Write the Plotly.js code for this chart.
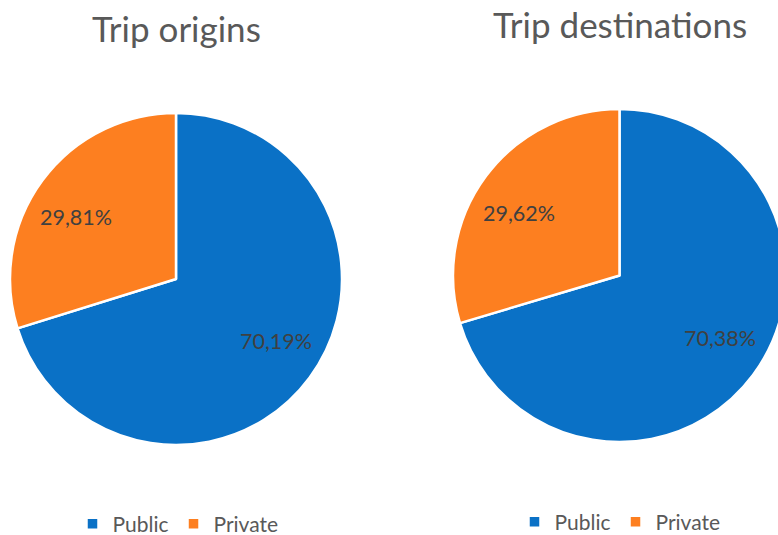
<!DOCTYPE html>
<html>
<head>
<meta charset="utf-8">
<script src="https://cdn.plot.ly/plotly-3.0.1.min.js"></script>
<style>
html, body { margin: 0; padding: 0; overflow: hidden; background: #fff; }
#chart { width: 800px; height: 535px; }
</style>
</head>
<body>
<div id="chart"></div>
<script>
const categories = ['Public', 'Private'];
const originValues = [70.19, 29.81];
const destinationValues = [70.38, 29.62];
const chartTitles = ['Trip origins', 'Trip destinations'];
const sliceColors = ['#0A71C6', '#FD7F20'];

const W = 800, H = 535;
const FONT = 'Lato, "Open Sans", sans-serif';

// pie geometry in pixels (center x, center y, radius)
const pies = [
  { cx: 176, cy: 279, r: 166, values: originValues, title: chartTitles[0], titleY: 28, legendX: 178, legendY: 524 },
  { cx: 619.5, cy: 275.5, r: 166.5, values: destinationValues, title: chartTitles[1], titleY: 24, legendX: 620, legendY: 522 }
];

const traces = pies.map((p, i) => ({
  type: 'pie',
  labels: categories,
  values: p.values,
  sort: false,
  direction: 'clockwise',
  rotation: 0,
  marker: { colors: sliceColors, line: { color: '#ffffff', width: 2.5 } },
  textinfo: 'none',
  hoverinfo: 'none',
  domain: {
    x: [(p.cx - p.r) / W, (p.cx + p.r) / W],
    y: [(H - (p.cy + p.r)) / H, (H - (p.cy - p.r)) / H]
  },
  legend: i === 0 ? 'legend' : 'legend2',
  legendgroup: 'g' + i
}));

// percentage labels placed near each slice's mid-angle
const labelAnnotations = [];
const angleShift = -4.5 * Math.PI / 180;
pies.forEach(p => {
  const total = p.values.reduce((a, b) => a + b, 0);
  let cum = 0;
  p.values.forEach(v => {
    const frac = v / total;
    const mid = (cum + frac / 2) * 2 * Math.PI + angleShift;
    cum += frac;
    const rr = 0.71 * p.r;
    const px = p.cx + rr * Math.sin(mid);
    const py = p.cy - rr * Math.cos(mid);
    labelAnnotations.push({
      text: (frac * 100).toFixed(2).replace('.', ',') + '%',
      x: px / W, y: (H - py) / H,
      xref: 'paper', yref: 'paper', showarrow: false,
      xanchor: 'center', yanchor: 'middle',
      font: { family: FONT, size: 21.5, color: '#404040' }
    });
  });
});

const titleAnnotations = pies.map(p => ({
  text: p.title, x: p.cx / W, y: (H - p.titleY) / H,
  xref: 'paper', yref: 'paper', showarrow: false,
  xanchor: 'center', yanchor: 'middle',
  font: { family: FONT, size: 35, color: '#595959' }
}));

const legendBase = {
  orientation: 'h',
  traceorder: 'normal',
  xanchor: 'center',
  yanchor: 'middle',
  font: { family: FONT, size: 21, color: '#595959' },
  bgcolor: 'rgba(0,0,0,0)',
  itemwidth: 30,
  itemclick: false
};

const layout = {
  width: W,
  height: H,
  margin: { l: 0, r: 0, t: 0, b: 0, autoexpand: false },
  paper_bgcolor: '#ffffff',
  showlegend: true,
  legend: Object.assign({}, legendBase, { x: pies[0].legendX / W, y: (H - pies[0].legendY) / H }),
  legend2: Object.assign({}, legendBase, { x: pies[1].legendX / W, y: (H - pies[1].legendY) / H }),
  annotations: titleAnnotations.concat(labelAnnotations)
};

Plotly.newPlot('chart', traces, layout, { displayModeBar: false, staticPlot: true });
</script>
</body>
</html>
